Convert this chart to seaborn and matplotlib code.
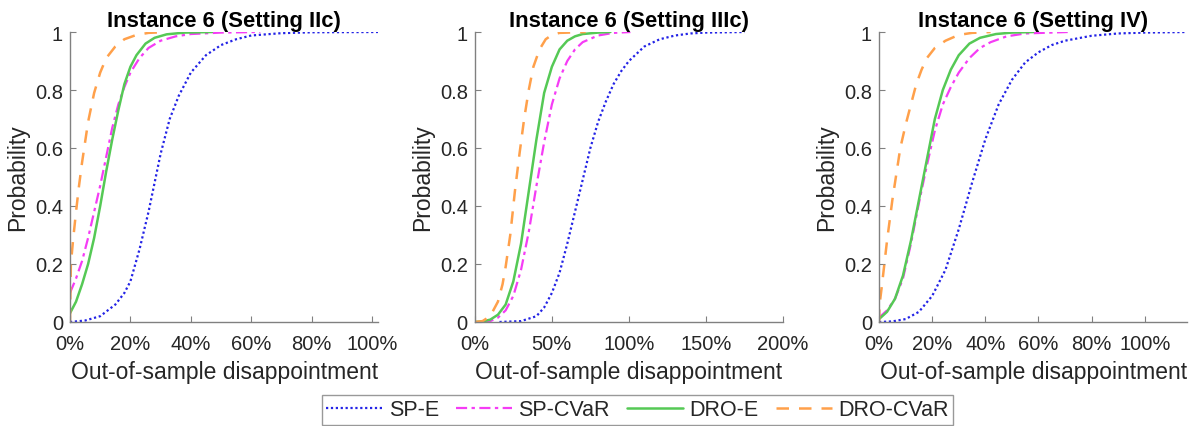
import numpy as np
import pandas as pd
import seaborn as sns
import matplotlib
matplotlib.use("Agg")
import matplotlib.pyplot as plt

# ---------------- data ----------------
titles = ["Instance 6 (Setting IIc)", "Instance 6 (Setting IIIc)", "Instance 6 (Setting IV)"]
series_names = ["SP-E", "SP-CVaR", "DRO-E", "DRO-CVaR"]

# Panel 1: Setting IIc  (x in %, probability)
p1_spe_x = [0, 5, 10, 15, 18, 20, 23, 26, 28, 30, 33, 36, 40, 45, 50, 55, 60, 70, 80, 102]
p1_spe_y = [0, 0.005, 0.02, 0.06, 0.1, 0.14, 0.25, 0.38, 0.48, 0.58, 0.70, 0.78, 0.86, 0.92, 0.955, 0.975, 0.988, 0.996, 0.999, 1]
p1_spc_x = [0, 2, 4, 6, 8, 10, 12, 14, 16, 18, 20, 23, 26, 30, 35, 40, 50, 63]
p1_spc_y = [0.1, 0.15, 0.21, 0.29, 0.38, 0.47, 0.57, 0.67, 0.75, 0.81, 0.86, 0.91, 0.945, 0.97, 0.985, 0.993, 0.998, 1]
p1_droe_x = [0, 2, 4, 6, 8, 10, 12, 14, 16, 18, 20, 22, 25, 28, 32, 38, 47]
p1_droe_y = [0.03, 0.07, 0.13, 0.2, 0.29, 0.4, 0.52, 0.63, 0.73, 0.82, 0.88, 0.92, 0.96, 0.98, 0.992, 0.998, 1]
p1_droc_x = [0, 0.3, 1, 2, 3, 4, 5, 6, 8, 10, 12, 15, 18, 22, 26, 32]
p1_droc_y = [0, 0.2, 0.28, 0.38, 0.47, 0.55, 0.62, 0.69, 0.79, 0.86, 0.91, 0.95, 0.975, 0.99, 0.997, 1]

# Panel 2: Setting IIIc
p2_spe_x = [16, 30, 40, 45, 50, 55, 60, 65, 70, 75, 80, 85, 90, 95, 100, 110, 120, 130, 140, 150, 175]
p2_spe_y = [0, 0.003, 0.02, 0.05, 0.1, 0.17, 0.27, 0.38, 0.49, 0.6, 0.69, 0.76, 0.82, 0.865, 0.9, 0.95, 0.975, 0.988, 0.995, 0.998, 1]
p2_spc_x = [5, 10, 15, 20, 25, 30, 35, 40, 45, 50, 55, 60, 65, 70, 80, 90, 101]
p2_spc_y = [0, 0.003, 0.015, 0.04, 0.09, 0.18, 0.31, 0.47, 0.62, 0.75, 0.84, 0.9, 0.94, 0.965, 0.988, 0.997, 1]
p2_droe_x = [0, 5, 10, 15, 20, 25, 30, 35, 40, 45, 50, 55, 60, 65, 70, 80, 88]
p2_droe_y = [0, 0.002, 0.008, 0.025, 0.06, 0.14, 0.27, 0.45, 0.63, 0.79, 0.88, 0.94, 0.97, 0.985, 0.993, 0.998, 1]
p2_droc_x = [0, 5, 10, 15, 18, 20, 23, 26, 29, 32, 35, 38, 42, 46, 50, 55, 72]
p2_droc_y = [0, 0.003, 0.02, 0.07, 0.13, 0.19, 0.3, 0.45, 0.58, 0.7, 0.8, 0.88, 0.94, 0.975, 0.99, 0.997, 1]

# Panel 3: Setting IV
p3_spe_x = [0, 5, 10, 15, 20, 25, 30, 35, 40, 45, 50, 55, 60, 65, 70, 80, 90, 100, 116]
p3_spe_y = [0, 0.002, 0.01, 0.035, 0.09, 0.18, 0.32, 0.48, 0.63, 0.75, 0.835, 0.895, 0.93, 0.955, 0.97, 0.987, 0.995, 0.998, 1]
p3_spc_x = [0, 3, 6, 9, 12, 15, 18, 21, 24, 27, 30, 34, 38, 42, 48, 55, 71]
p3_spc_y = [0.015, 0.04, 0.08, 0.15, 0.27, 0.41, 0.54, 0.66, 0.75, 0.81, 0.86, 0.91, 0.945, 0.965, 0.985, 0.995, 1]
p3_droe_x = [0, 3, 6, 9, 12, 15, 18, 21, 24, 27, 30, 34, 38, 44, 50, 58]
p3_droe_y = [0.01, 0.035, 0.08, 0.16, 0.28, 0.42, 0.56, 0.7, 0.8, 0.87, 0.92, 0.96, 0.98, 0.993, 0.998, 1]
p3_droc_x = [0, 0.2, 1, 2, 3, 4, 5, 6, 8, 10, 12, 14, 16, 18, 21, 25, 30, 35, 42]
p3_droc_y = [0, 0.06, 0.12, 0.2, 0.28, 0.35, 0.42, 0.48, 0.6, 0.68, 0.75, 0.82, 0.87, 0.91, 0.945, 0.97, 0.99, 0.997, 1]

x_max = [102, 200, 116]
x_ticks = [[0, 20, 40, 60, 80, 100], [0, 50, 100, 150, 200], [0, 20, 40, 60, 80, 100]]

panels = [
    [(p1_spe_x, p1_spe_y), (p1_spc_x, p1_spc_y), (p1_droe_x, p1_droe_y), (p1_droc_x, p1_droc_y)],
    [(p2_spe_x, p2_spe_y), (p2_spc_x, p2_spc_y), (p2_droe_x, p2_droe_y), (p2_droc_x, p2_droc_y)],
    [(p3_spe_x, p3_spe_y), (p3_spc_x, p3_spc_y), (p3_droe_x, p3_droe_y), (p3_droc_x, p3_droc_y)],
]

# ---------------- style ----------------
sns.set_theme(style="white")
plt.rcParams["font.family"] = ["Liberation Sans", "DejaVu Sans"]

colors = ["#2323e6", "#f53cf5", "#55c955", "#ffa04a"]
styles = [(0, (1, 1.2)), (0, (5, 2, 1.5, 2)), "-", (0, (5, 4))]
widths = [1.6, 1.6, 1.8, 1.8]

fig = plt.figure(figsize=(11.9, 4.27), dpi=100)
lefts = [0.0588, 0.399, 0.7387]
width = 0.259
bottom = 0.2436
height = 0.6791

handles = []
for i in range(3):
    ax = fig.add_axes([lefts[i], bottom, width, height])
    for j, (xs, ys) in enumerate(panels[i]):
        df = pd.DataFrame({"x": xs, "p": ys})
        sns.lineplot(data=df, x="x", y="p", ax=ax, color=colors[j], linestyle=styles[j],
                     linewidth=widths[j], estimator=None, sort=False, label=series_names[j],
                     legend=False)
    ax.set_xlim(0, x_max[i])
    ax.set_ylim(0, 1)
    ax.set_xticks(x_ticks[i])
    ax.set_xticklabels([f"{t}%" for t in x_ticks[i]])
    ax.set_yticks([0, 0.2, 0.4, 0.6, 0.8, 1])
    ax.set_yticklabels(["0", "0.2", "0.4", "0.6", "0.8", "1"])
    for s in ["top", "right"]:
        ax.spines[s].set_visible(False)
    for s in ["left", "bottom"]:
        ax.spines[s].set_color("#808080")
        ax.spines[s].set_linewidth(1.0)
    ax.tick_params(axis="both", direction="in", length=4, width=0.8, color="#808080",
                   labelsize=14.5, labelcolor="#262626", bottom=True, left=True)
    ax.tick_params(axis="x", pad=8.5)
    ax.tick_params(axis="y", pad=5)
    ax.set_xlabel("Out-of-sample disappointment", fontsize=16.5, color="#262626", labelpad=5)
    ax.set_ylabel("Probability", fontsize=16.5, color="#262626", labelpad=4)
    ax.set_title(titles[i], fontsize=15.8, fontweight="bold", color="black", pad=4)
    if i == 0:
        handles = ax.get_lines()[:4]

leg = fig.legend(handles, series_names, loc="center left", bbox_to_anchor=(0.2706, 0.038),
                 ncol=4, frameon=True, fancybox=False, fontsize=15.5, handlelength=2.6,
                 columnspacing=0.8, handletextpad=0.3, borderpad=0.2, borderaxespad=0)
leg.get_frame().set_edgecolor("#808080")
leg.get_frame().set_linewidth(1.0)

fig.savefig("out.png", dpi=100)
